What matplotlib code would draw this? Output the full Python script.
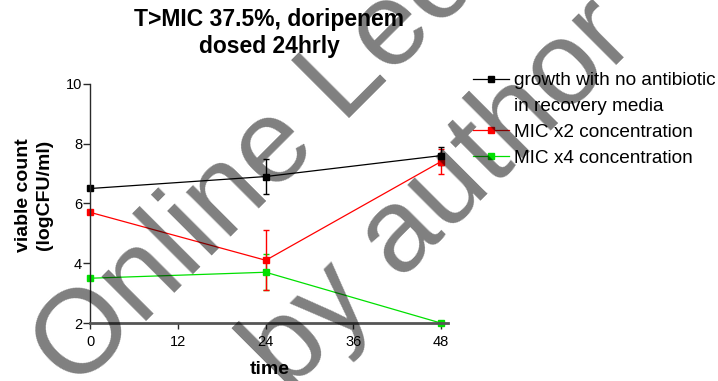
import matplotlib
matplotlib.use('Agg')
import matplotlib.pyplot as plt
from matplotlib.lines import Line2D

plt.rcParams['font.family'] = ['Liberation Sans', 'DejaVu Sans']

# viable counts (logCFU/ml) at each sampling time (h)
time_h = [0, 24, 48]
no_abx = [6.5, 6.9, 7.6]
no_abx_err = [0, 0.6, 0.3]
mic_x2 = [5.7, 4.1, 7.4]
mic_x2_err = [0, 1.0, 0.42]
mic_x4 = [3.5, 3.7, 2.0]
mic_x4_err = [0, 0.6, 0]
labels = ['growth with no antibiotic', 'in recovery media',
          'MIC x2 concentration', 'MIC x4 concentration']

fig = plt.figure(figsize=(7.18, 3.81), dpi=100)
ax = fig.add_axes([0.126, 0.152, 0.498, 0.628])

ms = 4
for y, err, col in [(mic_x4, mic_x4_err, '#00e000'),
                    (mic_x2, mic_x2_err, 'red'),
                    (no_abx, no_abx_err, 'black')]:
    ax.errorbar(time_h, y, yerr=err, color=col, marker='s', ms=ms, lw=0.9,
                elinewidth=1, capsize=2.5, capthick=1, clip_on=False)

ax.set_xlim(0, 48.96)
ax.set_ylim(2, 10)
ax.set_xticks([0, 12, 24, 36, 48])
ax.set_yticks([2, 4, 6, 8, 10])
for s in ['top', 'right']:
    ax.spines[s].set_visible(False)
ax.spines['left'].set_color('#2a2a2a')
ax.spines['left'].set_linewidth(1)
ax.spines['bottom'].set_color('#555555')
ax.spines['bottom'].set_linewidth(2)
ax.tick_params(axis='y', length=5, width=1, color='#2a2a2a', pad=1, labelsize=10.5)
ax.tick_params(axis='x', length=4.5, width=1, color='#2a2a2a', pad=4, labelsize=10.5)

ax.set_title('T>MIC 37.5%, doripenem\ndosed 24hrly', fontsize=16.5,
             fontweight='bold', x=0.5, y=1.213, va='center', pad=0,
             linespacing=1.25)
ax.set_ylabel('viable count\n(logCFU/ml)', fontsize=14, fontweight='bold',
              va='center', linespacing=1.25)
ax.yaxis.set_label_coords(-0.158, 0.536)
ax.set_xlabel('time', fontsize=14, fontweight='bold', va='center')
ax.xaxis.set_label_coords(0.5, -0.192)

handles = [Line2D([], [], color='black', marker='s', ms=ms, lw=0.9),
           Line2D([], [], color='none'),
           Line2D([], [], color='red', marker='s', ms=ms, lw=0.9),
           Line2D([], [], color='#00e000', marker='s', ms=ms, lw=0.9)]
fig.legend(handles, labels, loc='upper left', bbox_to_anchor=(0.659, 0.811),
           frameon=False, fontsize=13.7, handlelength=1.9, handletextpad=0.26,
           labelspacing=0.45, borderpad=0, borderaxespad=0, numpoints=1)

# watermark
wm = dict(fontsize=86, color='black', alpha=0.5, rotation=45,
          rotation_mode='anchor', ha='left', va='baseline', zorder=10)
fig.text(0.105, -0.03, 'Online Lecture', **wm)
fig.text(0.40, -0.035, 'by author', **wm)

fig.savefig('out.png', dpi=100)
